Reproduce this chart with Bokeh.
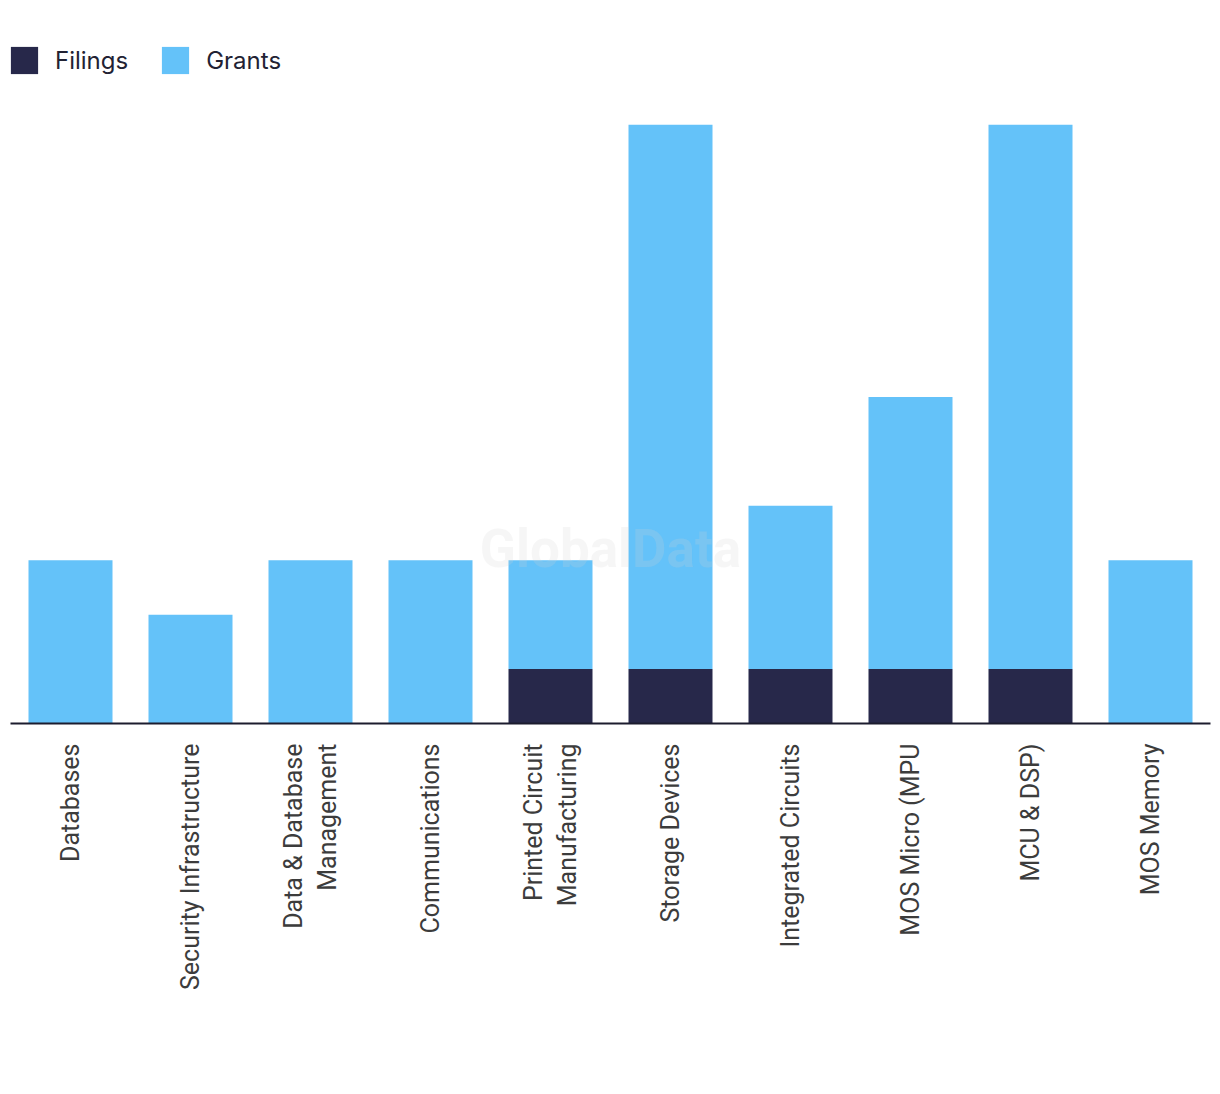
import math
from bokeh.plotting import figure
from bokeh.models import ColumnDataSource, FactorRange, Range1d, Legend, LegendItem, Label
from bokeh.embed import file_html
from bokeh.resources import INLINE

categories = ["Databases", "Security Infrastructure", "Data & Database\nManagement",
              "Communications", "Printed Circuit\nManufacturing", "Storage Devices",
              "Integrated Circuits", "MOS Micro (MPU", "MCU & DSP)", "MOS Memory"]
filings = [0, 0, 0, 0, 1, 1, 1, 1, 1, 0]
grants = [3, 2, 3, 3, 2, 10, 3, 5, 10, 3]

series = ["Filings", "Grants"]
colors = ["#27284A", "#64C2F9"]

source = ColumnDataSource(data=dict(cat=categories, Filings=filings, Grants=grants))

p = figure(x_range=FactorRange(*categories, range_padding=0), y_range=Range1d(0, 12.44),
           width=1212, height=1088, output_backend="svg", toolbar_location=None,
           min_border_left=10, min_border_right=2, min_border_top=46, min_border_bottom=365)

rs = p.vbar_stack(series, x="cat", width=0.7, color=colors, source=source, line_width=0)

p.outline_line_color = None
p.xgrid.grid_line_color = None
p.ygrid.grid_line_color = None
p.yaxis.visible = False

ax = p.xaxis[0]
ax.major_label_orientation = math.pi / 2
ax.major_label_text_font = "Roboto"
ax.major_label_text_font_size = "25px"
ax.major_label_text_color = "#3c3c3c"
ax.major_label_standoff = 14
ax.major_tick_line_color = None
ax.minor_tick_line_color = None
ax.axis_line_color = "#1c1c2e"
ax.axis_line_width = 2

legend = Legend(items=[LegendItem(label=s, renderers=[r]) for s, r in zip(series, rs)],
                location=(-3, 646), orientation="horizontal",
                glyph_width=34, glyph_height=34, label_standoff=14, spacing=30,
                margin=0, padding=0, border_line_color=None, background_fill_alpha=0,
                label_text_font="Inter", label_text_font_size="24px",
                label_text_color="#222233")
p.add_layout(legend)

wm = Label(x=5.0, y=3.2, text="GlobalData", text_align="center", text_baseline="middle",
           text_font="Roboto", text_font_style="bold", text_font_size="53px",
           text_color="#d0d0d0", text_alpha=0.2)
p.add_layout(wm)

open("out.html", "w").write(file_html(p, INLINE))
